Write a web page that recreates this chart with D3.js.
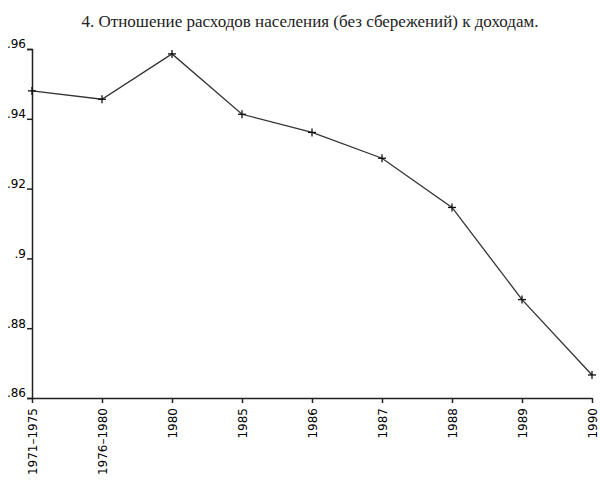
<!DOCTYPE html>
<html><head><meta charset="utf-8">
<script src="https://cdn.jsdelivr.net/npm/d3@7"></script>
<style>body{margin:0;background:#fff}</style>
</head><body>
<script>
// data
var periods = ['1971–1975','1976–1980','1980','1985','1986','1987','1988','1989','1990']
var ratio = [0.948, 0.9456, 0.9586, 0.9413, 0.9361, 0.9287, 0.9146, 0.8882, 0.8666]
var yTicks = [0.86, 0.88, 0.9, 0.92, 0.94, 0.96]

var svg = d3.select("body").append("svg").attr("width", 600).attr("height", 499)

svg.append("text")
  .attr("x", 310).attr("y", 27)
  .attr("text-anchor", "middle")
  .style("font-family", "Liberation Serif, serif")
  .style("font-size", "17px")
  .style("fill", "#222")
  .text("4. Отношение расходов населения (без сбережений) к доходам.")

var x = d3.scalePoint().domain(periods).range([32, 592])
var y = d3.scaleLinear().domain([0.86, 0.96]).range([398, 49])

var yAxis = svg.append("g")
  .attr("transform", "translate(32,0)")
  .call(d3.axisLeft(y).tickValues(yTicks).tickSize(5)
    .tickFormat(function(d){ return d3.format(".2f")(d).replace(/^0/, "").replace(/0$/, "") }))
yAxis.selectAll("text").style("font-family", "DejaVu Sans, sans-serif").style("font-size", "12px").attr("dx", "2").attr("dy", "-0.1em")

var xAxis = svg.append("g")
  .attr("transform", "translate(0,398)")
  .call(d3.axisBottom(x).tickSize(5).tickSizeOuter(0))
xAxis.selectAll("text")
  .style("font-family", "DejaVu Sans, sans-serif").style("font-size", "12px")
  .attr("text-anchor", "end")
  .attr("transform", "rotate(-90)")
  .attr("x", -10).attr("y", 0).attr("dy", "0.35em")

svg.selectAll(".domain, .tick line").attr("stroke", "#222").attr("stroke-width", 1.5)

svg.append("path")
  .datum(ratio)
  .attr("fill", "none").attr("stroke", "#333").attr("stroke-width", 1.3)
  .attr("d", d3.line().x(function(d, i){ return x(periods[i]) }).y(function(d){ return y(d) }))

// plus markers
var m = svg.selectAll(".mk").data(ratio).enter().append("g")
  .attr("transform", function(d, i){ return "translate(" + x(periods[i]) + "," + y(d) + ")" })
m.append("line").attr("x1", -4).attr("x2", 4).attr("stroke", "#111").attr("stroke-width", 1.3)
m.append("line").attr("y1", -4).attr("y2", 4).attr("stroke", "#111").attr("stroke-width", 1.3)
</script>
</body></html>
